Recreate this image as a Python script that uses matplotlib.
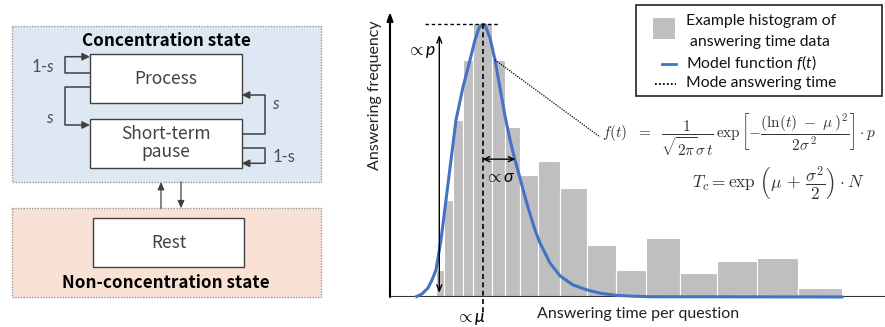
import numpy as np
import matplotlib
matplotlib.use("Agg")
import matplotlib.pyplot as plt
from matplotlib.patches import Rectangle

plt.rcParams['font.family'] = ['Lato', 'DejaVu Sans']
plt.rcParams['mathtext.fontset'] = 'custom'
plt.rcParams['mathtext.rm'] = 'Lato'
plt.rcParams['mathtext.it'] = 'Lato:italic'

# ---------------- data ----------------
bin_edges = [4.6, 5.4, 6.3, 7.3, 8.3, 10.2, 11.5, 13.0, 14.8, 17.0, 19.7,
             22.6, 25.6, 29.0, 32.7, 36.7, 40.8, 45.2]
bin_heights = [9.9, 35.4, 64.6, 86.5, 100.0, 86.5, 62.0, 44.5, 49.7, 39.7,
               18.8, 9.9, 21.4, 8.9, 13.1, 14.3, 3.2]
curve_t = [2.67, 3.2, 3.8, 4.2, 4.6, 5.1, 5.6, 6.1, 6.6, 7.3, 8.0, 8.5, 8.9,
           9.25, 9.5, 10.0, 10.5, 11.0, 11.5, 12.0, 12.5, 13.0, 13.5, 14.0,
           14.5, 15.0, 16.0, 17.0, 18.3, 19.7, 21.0, 22.7, 24.3, 26.0, 45.2]
curve_f = [0.2, 1.1, 3.3, 6.2, 9.9, 20.8, 35.4, 50.0, 64.6, 76.6, 86.5, 93.8,
           98.2, 99.5, 99.3, 94.5, 86.5, 76.3, 66.1, 57.3, 50.0, 43.4, 36.5,
           30.3, 24.5, 19.7, 12.4, 7.7, 4.4, 2.6, 1.4, 0.6, 0.3, 0.1, 0.0]
mode_t = 9.25
mode_f = 99.5
sigma_t = 12.55

legend_labels = ["Example histogram of\nanswering time data",
                 "Model function $f(t)$", "Mode answering time"]

W, H = 885, 327
fig = plt.figure(figsize=(W / 100, H / 100), dpi=100)

# ---------------- left diagram (pixel coordinates) ----------------
ax0 = fig.add_axes([0, 0, 1, 1])
ax0.set_xlim(0, W)
ax0.set_ylim(H, 0)
ax0.axis('off')

cjk = ['Noto Sans CJK JP', 'DejaVu Sans']
grey = '#404040'

ax0.add_patch(Rectangle((11.7, 26), 309, 156.3, facecolor='#DDE8F4',
                        edgecolor='#9a9a9a', lw=1, ls=(0, (1, 1))))
ax0.add_patch(Rectangle((11.7, 208.3), 309, 88.4, facecolor='#F9E2D5',
                        edgecolor='#9a9a9a', lw=1, ls=(0, (1, 1))))
for (x0, y0) in [(90, 54.3), (90, 119.3), (92.7, 218.3)]:
    ax0.add_patch(Rectangle((x0, y0), 151.7, 48.4, facecolor='white',
                            edgecolor=grey, lw=1))

ax0.text(166, 41, "Concentration state", family=cjk, fontweight='bold',
         fontsize=12.3, ha='center', va='center', color='black')
ax0.text(166, 283, "Non-concentration state", family=cjk, fontweight='bold',
         fontsize=12.3, ha='center', va='center', color='black')
ax0.text(166, 79, "Process", family=cjk, fontsize=12.5, ha='center',
         va='center', color=grey)
ax0.text(166, 143, "Short-term\npause", family=cjk, fontsize=12.5,
         ha='center', va='center', color=grey, linespacing=1.05)
ax0.text(168.5, 242.5, "Rest", family=cjk, fontsize=12.5, ha='center',
         va='center', color=grey)


def loop(pts):
    xs = [p[0] for p in pts[:-1]]
    ys = [p[1] for p in pts[:-1]]
    ax0.plot(xs, ys, color=grey, lw=1.1, solid_capstyle='butt')
    ax0.annotate('', xy=pts[-1], xytext=pts[-2],
                 arrowprops=dict(arrowstyle='-|>,head_length=0.45,head_width=0.22',
                                 color=grey, lw=1.1, shrinkA=0, shrinkB=0))


loop([(90, 72.7), (65, 72.7), (65, 56.7), (90, 56.7)])
loop([(90, 86.7), (65, 86.7), (65, 125), (90, 125)])
loop([(241.7, 134.3), (265, 134.3), (265, 95), (241.7, 95)])
loop([(241.7, 147.7), (265, 147.7), (265, 163.3), (241.7, 163.3)])
ax0.annotate('', xy=(161, 182), xytext=(161, 208.3),
             arrowprops=dict(arrowstyle='-|>,head_length=0.45,head_width=0.2',
                             color=grey, lw=0.9, shrinkA=0, shrinkB=0))
ax0.annotate('', xy=(181, 208.3), xytext=(181, 182),
             arrowprops=dict(arrowstyle='-|>,head_length=0.45,head_width=0.2',
                             color=grey, lw=0.9, shrinkA=0, shrinkB=0))

ax0.text(43.5, 66, "1-$s$", fontsize=12, ha='center', va='center', color='#505050')
ax0.text(50, 118, "$s$", fontsize=12, ha='center', va='center', color='#505050')
ax0.text(276, 104, "$s$", fontsize=12, ha='center', va='center', color='#505050')
ax0.text(284, 157, "1-s", fontsize=12, ha='center', va='center', color='#505050')

# ---------------- legend box ----------------
ax0.add_patch(Rectangle((636, 5), 246, 91, facecolor='white',
                        edgecolor='#222222', lw=1.2))
ax0.add_patch(Rectangle((653, 18), 22, 21, facecolor='#BFBFBF', edgecolor='none'))
ax0.plot([662, 676], [64, 64], color='#4472C4', lw=2)
ax0.plot([655, 676], [84, 84], color='black', lw=1.3, ls=(0, (1, 1.2)))
ax0.text(686, 21, legend_labels[0].split("\n")[0], fontsize=11.3, ha='left',
         va='center', color='#111111')
ax0.text(690, 42, legend_labels[0].split("\n")[1], fontsize=11.3, ha='left',
         va='center', color='#111111')
ax0.text(686, 63, legend_labels[1], fontsize=11.3, ha='left', va='center',
         color='#111111')
ax0.text(686, 83, legend_labels[2], fontsize=11.3, ha='left', va='center',
         color='#111111')

# equations
ax0.text(602, 135, r"$f(t)\ \ =\ \ \dfrac{1}{\sqrt{2\pi}\sigma\,t}\,\exp\left[-\dfrac{(\ln(t)\ -\ \mu\,)^2}{2\sigma^{\,2}}\right]\cdot p$",
         math_fontfamily='cm', fontsize=11, ha='left', va='center', color='#333333')
ax0.text(692, 183, r"$T_c = \exp\,\left(\mu\, +\, \dfrac{\sigma^2}{2}\right)\cdot N$",
         math_fontfamily='cm', fontsize=12.5, ha='left', va='center', color='#333333')

# axis titles
ax0.text(375, 95, "Answering frequency", fontsize=11.5, rotation=90,
         ha='center', va='center', color='#222222')
ax0.text(638, 314, "Answering time per question", fontsize=11.5,
         ha='center', va='center', color='#222222')

# ---------------- chart ----------------
ax = fig.add_axes([390 / W, 1 - 297 / H, 1 - 390 / W, (297 - 12) / H])
ax.set_facecolor('none')
ax.set_xlim(0, 49.5)
ax.set_ylim(0, 104)
for s in ax.spines.values():
    s.set_visible(False)
ax.set_xticks([])
ax.set_yticks([])

edges = np.array(bin_edges)
ax.bar(edges[:-1], bin_heights, width=np.diff(edges), align='edge',
       color='#BFBFBF', edgecolor='white', lw=0.8, zorder=1)
ax.axhline(0, color='#333333', lw=1.5, zorder=2)
ax.annotate('', xy=(0, 1), xytext=(0, 0), xycoords='axes fraction',
            arrowprops=dict(arrowstyle='-|>,head_length=0.5,head_width=0.18',
                            color='black', lw=1.5, shrinkA=0, shrinkB=0),
            annotation_clip=False)
ax.plot(curve_t, curve_f, color='#4472C4', lw=2.2, zorder=4, clip_on=False)

# mode lines
ax.plot([3.5, 10.8], [mode_f, mode_f], color='black', lw=1, ls=(0, (2.5, 2)), zorder=5)
ax.plot([mode_t, mode_t], [mode_f, -7], color='black', lw=1.2, ls=(0, (3, 2)),
        zorder=5, clip_on=False)

# proportional arrows
ax.annotate('', xy=(4.93, 95.6), xytext=(4.93, 1.5),
            arrowprops=dict(arrowstyle='<->,head_length=0.45,head_width=0.18',
                            color='black', lw=1, shrinkA=0, shrinkB=0), zorder=6)
ax.annotate('', xy=(sigma_t, 50.3), xytext=(mode_t, 50.3),
            arrowprops=dict(arrowstyle='<->,head_length=0.4,head_width=0.18',
                            color='black', lw=1, shrinkA=0, shrinkB=0), zorder=6)
ax.text(3.2, 89.4, r"$\propto p$", fontsize=12.5, ha='center', va='center')
ax.text(11.0, 43.8, r"$\propto \sigma$", fontsize=12.5, ha='center', va='center')
ax.text(8.1, -8.0, r"$\propto \mu$", fontsize=12.5, ha='center', va='center',
        clip_on=False)

# leader line to equation
ax.plot([10.5, 21.0], [86.5, 58.4], color='black', lw=0.9, ls=(0, (1, 1)),
        zorder=6, clip_on=False)

fig.savefig("out.png", dpi=100)
